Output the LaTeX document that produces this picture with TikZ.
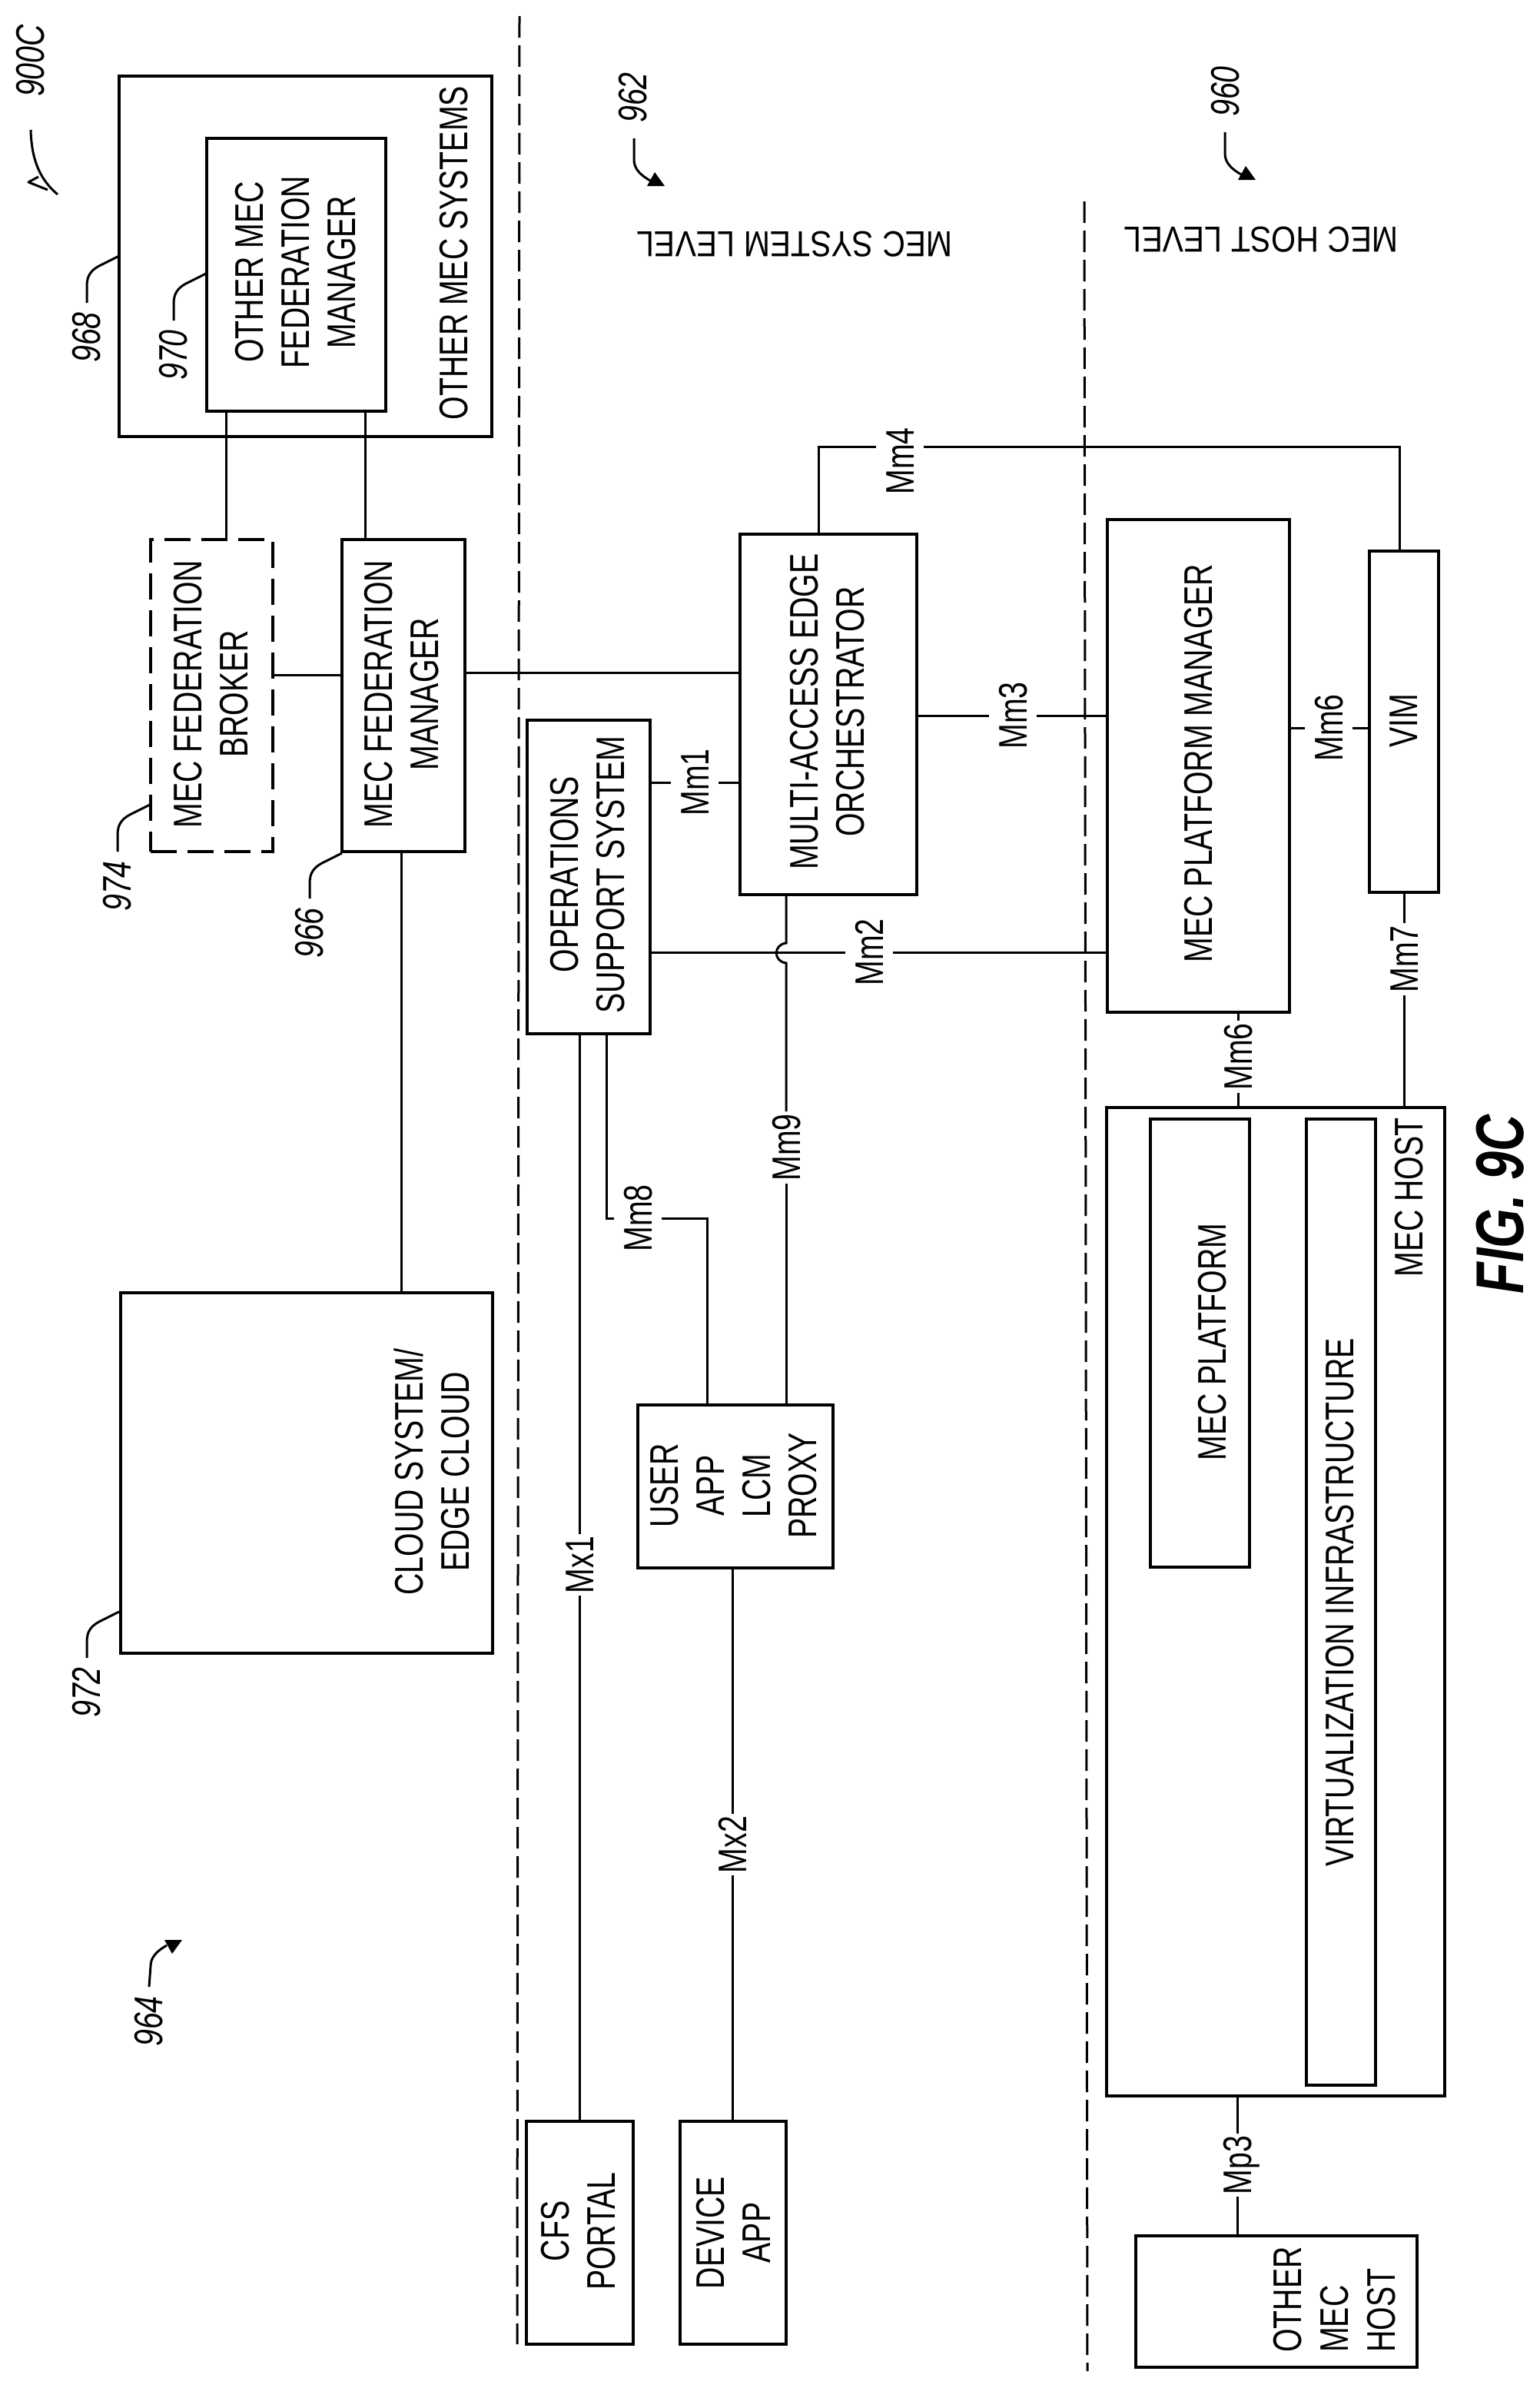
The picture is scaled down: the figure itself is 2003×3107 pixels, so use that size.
\documentclass[tikz,border=0pt]{standalone}
\usepackage{fontspec}
\setmainfont[FakeStretch=0.755]{Liberation Sans}
\newfontfamily\levelfont[FakeStretch=0.875]{Liberation Sans}
\tikzset{
  box/.style={draw=black,line width=3.5pt,inner sep=0pt,outer sep=0pt},
  dashbox/.style={dash pattern=on 34pt off 14pt},
  wire/.style={draw=black,line width=3pt},
  divider/.style={draw=black,line width=3pt,dash pattern=on 28pt off 10pt},
  lead/.style={draw=black,line width=3pt},
  txt/.style={rotate=90,font=\fontsize{52}{60}\selectfont,align=center,inner sep=0pt},
  txtleft/.style={rotate=90,font=\fontsize{52}{61}\selectfont,align=left,inner sep=0pt,anchor=west},
  lbl/.style={rotate=90,font=\fontsize{52}{60}\selectfont,inner xsep=3pt,inner ysep=12pt,text height=37.2pt,text depth=0pt},
  num/.style={rotate=90,font=\fontsize{52}{60}\selectfont\itshape,inner xsep=12pt,inner ysep=0pt},
  level/.style={rotate=180,font=\fontsize{47}{55}\levelfont,inner sep=0pt},
  figlabel/.style={rotate=90,font=\fontsize{88}{96}\selectfont\bfseries\itshape,inner sep=0pt},
}
\newcommand{\mkbox}[6][]{%
  \pgfmathsetmacro\bxw{#5-#3}\pgfmathsetmacro\bxh{#6-#4}%
  \node[box,#1,minimum width=\bxw pt,minimum height=\bxh pt] (#2) at ({(#3+#5)/2},{(#4+#6)/2}) {};}
\newcommand{\leadto}[2]{%
  \draw[lead] (#1) -- ++(-22,11) .. controls +(-13,6) and +(0,-15) .. ++(-20,28) -- (#2.east);}
\begin{document}
\begin{tikzpicture}[x=1pt,y=-1pt]
\path[use as bounding box,fill=white] (0,0) rectangle (2003,3107);

% dividers
\coordinate (d1a) at (676,21);  \coordinate (d1b) at (673,3050);
\coordinate (d2a) at (1411,262);\coordinate (d2b) at (1415,3085);
\draw[divider] (d1a) -- (d1b);
\draw[divider] (d2a) -- (d2b);

% boxes
\mkbox{omsys}{155}{99}{640}{568}
\mkbox{ofm}{269}{180}{502}{535}
\mkbox[dashbox]{broker}{196}{702}{355}{1108}
\mkbox{fm}{445}{702}{605}{1108}
\mkbox{cloud}{157}{1682}{641}{2151}
\mkbox{oss}{686}{937}{846}{1345}
\mkbox{meo}{963}{695}{1193}{1164}
\mkbox{user}{830}{1828}{1084}{2040}
\mkbox{cfs}{685}{2760}{824}{3050}
\mkbox{dev}{885}{2760}{1023}{3050}
\mkbox{pm}{1441}{676}{1678}{1317}
\mkbox{vim}{1782}{717}{1872}{1161}
\mkbox{host}{1440}{1441}{1880}{2727}
\mkbox{plat}{1497}{1456}{1626}{2039}
\mkbox{virt}{1700}{1456}{1790}{2713}
\mkbox{other}{1478}{2909}{1844}{3080}

% box texts
\node[txt] (tomsys) at (591,329) {OTHER MEC SYSTEMS};
\node[txt] (tofm) at (385,354) {OTHER MEC\\FEDERATION\\MANAGER};
\node[txt] (tbroker) at (275,903) {MEC FEDERATION\\BROKER};
\node[txt] (tfm) at (523,903) {MEC FEDERATION\\MANAGER};
\node[txt] (tcloud) at (562,1915) {CLOUD SYSTEM/\\EDGE CLOUD};
\node[txt] (toss) at (765,1138) {OPERATIONS\\SUPPORT SYSTEM};
\node[txt] (tmeo) at (1077,926) {MULTI-ACCESS EDGE\\ORCHESTRATOR};
\node[txt] (tuser) at (955,1933) {USER\\APP\\LCM\\PROXY};
\node[txt] (tcfs) at (753,2903) {CFS\\PORTAL};
\node[txt] (tdev) at (954,2905) {DEVICE\\APP};
\node[txt] (tpm) at (1560,993) {MEC PLATFORM MANAGER};
\node[txt] (tvim) at (1827,938) {VIM};
\node[txt] (tplat) at (1578,1746) {MEC PLATFORM};
\node[txt] (tvirt) at (1744,2085) {VIRTUALIZATION INFRASTRUCTURE};
\node[txt] (thost) at (1834,1558) {MEC HOST};
\node[txtleft] (tother) at (1737,3061) {OTHER\\MEC\\HOST};

% level captions
\node[level] (lsys) at (1034,318) {MEC SYSTEM LEVEL};
\node[level] (lhost) at (1641,312) {MEC HOST LEVEL};
\node[figlabel] (fig) at (1952,1567) {FIG. 9C};

% interface labels
\node[lbl] (mm1) at (904,1018) {Mm1};
\node[lbl] (mm2) at (1131,1239) {Mm2};
\node[lbl] (mm3) at (1318,931) {Mm3};
\node[lbl] (mm4) at (1171,600) {Mm4};
\node[lbl] (mm6a) at (1729,947) {Mm6};
\node[lbl] (mm6b) at (1611,1375) {Mm6};
\node[lbl] (mm7) at (1827,1248) {Mm7};
\node[lbl] (mm8) at (830,1585) {Mm8};
\node[lbl] (mm9) at (1023,1493) {Mm9};
\node[lbl] (mx1) at (754,2036) {Mx1};
\node[lbl] (mx2) at (953,2400) {Mx2};
\node[lbl] (mp3) at (1610,2817) {Mp3};

% connectors
\coordinate (l1) at (294,620);
\coordinate (l2) at (475,620);
\coordinate (fy1) at (400,878);
\coordinate (fy2) at (800,875);
\coordinate (cl) at (522,1400);
\draw[wire] (ofm.south -| l1) -- (broker.north -| l1);
\draw[wire] (ofm.south -| l2) -- (fm.north -| l2);
\draw[wire] (broker.east |- fy1) -- (fm.west |- fy1);
\draw[wire] (fm.east |- fy2) -- (meo.west |- fy2);
\draw[wire] (fm.south -| cl) -- (cloud.north -| cl);

\draw[wire] (oss.east |- mm1) -- (mm1);
\draw[wire] (mm1) -- (meo.west |- mm1);
\draw[wire] (oss.east |- mm2) -- (mm2);
\draw[wire] (mm2) -- (pm.west |- mm2);
\draw[wire] (meo.east |- mm3) -- (mm3);
\draw[wire] (mm3) -- (pm.west |- mm3);

\coordinate (m4a) at (1065,581);
\coordinate (m4b) at (1821,581);
\draw[wire] (meo.north -| m4a) -- (m4a) -- (mm4.north |- m4a);
\draw[wire] (mm4.south |- m4a) -- (m4b) -- (vim.north -| m4b);

\draw[wire] (pm.east |- mm6a) -- (mm6a);
\draw[wire] (mm6a) -- (vim.west |- mm6a);
\draw[wire] (pm.south -| mm6b) -- (mm6b);
\draw[wire] (mm6b) -- (host.north -| mm6b);
\draw[wire] (vim.south -| mm7) -- (mm7);
\draw[wire] (mm7) -- (host.north -| mm7);

\coordinate (m8a) at (789,1585);
\coordinate (m8b) at (920,1585);
\draw[wire] (oss.south -| m8a) -- (m8a) -- (mm8);
\draw[wire] (mm8) -- (m8b) -- (user.north -| m8b);

\coordinate (hopa) at (1023,1227);
\coordinate (hopb) at (1023,1253);
\draw[wire] (meo.south -| hopa) -- (hopa) .. controls (1006,1229) and (1006,1251) .. (hopb) -- (mm9);
\draw[wire] (mm9) -- (user.north -| mm9);

\draw[wire] (oss.south -| mx1) -- (mx1);
\draw[wire] (mx1) -- (cfs.north -| mx1);
\draw[wire] (user.south -| mx2) -- (mx2);
\draw[wire] (mx2) -- (dev.north -| mx2);
\draw[wire] (host.south -| mp3) -- (mp3);
\draw[wire] (mp3) -- (other.north -| mp3);

% reference numerals
\node[num] (n900) at (40,79) {900C};
\node[num] (n962) at (824,127) {962};
\node[num] (n960) at (1595,119) {960};
\node[num] (n964) at (194,2630) {964};
\node[num] (n968) at (113,439) {968};
\node[num] (n970) at (226,462) {970};
\node[num] (n974) at (153,1153) {974};
\node[num] (n966) at (403,1214) {966};
\node[num] (n972) at (113,2202) {972};

\coordinate (c968) at (155,333);
\coordinate (c970) at (268,356);
\coordinate (c974) at (195,1047);
\coordinate (c966) at (445,1110);
\coordinate (c972) at (155,2097);
\leadto{c968}{n968}
\leadto{c970}{n970}
\leadto{c974}{n974}
\leadto{c966}{n966}
\leadto{c972}{n972}

% pointer arrows
\coordinate (p900) at (40,169);
\coordinate (p962) at (825,180);
\coordinate (p960) at (1594,172);
\draw[lead] (p900) .. controls (41,205) and (50,232) .. (75,253);
\draw[lead,line join=round] (50,230) -- (37,237) -- (62,247);
\draw[lead] (p962) -- (825,208) .. controls (825,220) and (834,228) .. (846,235);
\fill (842,242) -- (865,242) -- (852,224) -- cycle;
\draw[lead] (p960) -- (1594,200) .. controls (1594,212) and (1603,220) .. (1615,227);
\fill (1611,234) -- (1634,234) -- (1621,216) -- cycle;
\draw[lead] (n964.east) -- (196,2558) .. controls (196,2546) and (205,2538) .. (217,2531);
\fill (214,2524) -- (237,2524) -- (224,2542) -- cycle;
\end{tikzpicture}
\end{document}
